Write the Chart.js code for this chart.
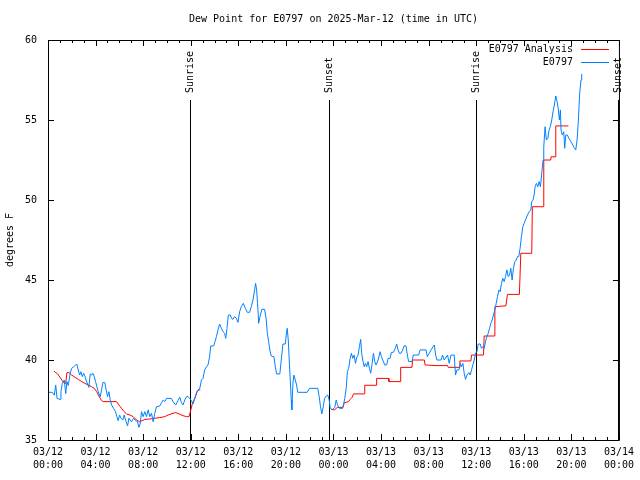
<!DOCTYPE html>
<html>
<head>
<meta charset="utf-8">
<script src="https://cdn.jsdelivr.net/npm/chart.js@4/dist/chart.umd.min.js"></script>
<style>
  body { margin: 0; background: #fff; }
  canvas { display: block; }
</style>
</head>
<body>
<canvas id="chart" width="640" height="480"></canvas>
<script>
// hours since 03/12 00:00 UTC
var obsHours = [0.08,0.36,0.53,0.65,0.76,1.01,1.09,1.20,1.37,1.49,1.59,1.70,1.87,1.99,2.16,2.32,2.43,2.54,2.66,2.77,
  2.88,3.00,3.10,3.21,3.33,3.44,3.55,3.67,3.78,3.89,4.00,4.11,4.22,4.39,4.51,4.62,4.78,4.89,5.01,5.12,
  5.23,5.35,5.51,5.68,5.79,5.90,6.02,6.13,6.29,6.40,6.57,6.69,6.80,6.91,7.02,7.19,7.36,7.53,7.64,7.75,
  7.86,8.00,8.14,8.28,8.42,8.56,8.70,8.84,8.98,9.12,9.40,9.68,9.82,9.96,10.18,10.38,10.51,10.74,10.93,11.08,
  11.22,11.35,11.50,11.64,11.77,11.92,12.06,12.19,12.34,12.48,12.61,12.76,12.90,13.03,13.17,13.32,13.45,13.59,13.68,13.93,
  14.04,14.16,14.29,14.43,14.58,14.71,14.85,14.94,15.05,15.16,15.33,15.44,15.55,15.69,15.84,15.97,16.11,16.25,16.42,16.59,
  16.76,16.95,17.09,17.23,17.37,17.45,17.54,17.62,17.71,17.82,17.98,18.21,18.35,18.44,18.55,18.65,18.77,18.99,19.11,19.22,
  19.49,19.61,19.75,19.95,20.03,20.11,20.20,20.28,20.37,20.45,20.50,20.59,20.67,20.79,20.90,21.00,21.79,21.99,22.68,22.80,
  22.91,23.02,23.14,23.25,23.39,23.52,23.64,23.72,23.86,23.94,24.11,24.23,24.34,24.50,24.78,24.95,25.07,25.17,25.28,25.40,
  25.51,25.62,25.74,25.85,25.96,26.07,26.18,26.29,26.37,26.46,26.58,26.69,26.79,26.91,27.02,27.13,27.25,27.36,27.47,27.58,
  27.75,27.92,28.03,28.14,28.31,28.47,28.59,28.76,28.87,29.04,29.20,29.31,29.43,29.54,29.68,29.82,29.93,30.10,30.21,30.32,
  30.60,30.71,31.16,31.28,31.78,31.89,32.06,32.20,32.37,32.48,32.59,32.70,33.04,33.17,33.31,33.59,33.73,33.88,34.15,34.26,
  34.38,34.55,34.66,34.77,34.88,34.99,35.10,35.22,35.39,35.50,35.61,35.72,35.83,35.94,36.06,36.17,36.34,36.44,36.56,36.67,
  36.78,36.90,37.01,37.12,37.23,37.34,37.45,37.57,37.68,37.79,37.91,38.02,38.12,38.24,38.35,38.46,38.58,38.69,38.80,38.91,
  39.02,39.13,39.25,39.36,39.47,39.58,39.69,39.80,39.92,40.03,40.31,40.45,40.59,40.67,40.78,40.87,40.95,41.06,41.18,41.29,
  41.40,41.51,41.62,41.68,41.79,41.90,42.02,42.13,42.23,42.35,42.46,42.57,42.69,42.80,42.91,42.99,43.08,43.13,43.24,43.36,
  43.44,43.53,43.66,43.80,43.95,44.08,44.22,44.37,44.48,44.59,44.70,44.81,44.87];
var obsValues = [37.98,37.98,37.8,38.44,37.6,37.54,38.02,38.54,38.75,37.9,38.65,38.4,39.17,39.48,39.58,39.69,39.73,39.38,39.06,39.27,
  38.96,39.17,39.0,38.71,38.5,38.29,39.13,39.06,39.17,38.96,38.65,38.33,38.02,37.71,38.17,38.6,38.58,38.13,37.71,38.02,
  37.5,37.19,36.98,36.77,36.46,36.21,36.56,36.36,36.25,36.56,36.14,35.88,36.36,36.25,36.14,36.36,36.21,36.14,35.79,36.0,
  36.77,36.46,36.77,36.46,36.88,36.46,36.67,36.14,36.67,37.08,37.13,37.5,37.4,37.6,37.6,37.6,37.4,37.19,37.46,37.67,
  37.33,37.19,37.5,37.71,37.71,37.6,37.46,37.25,37.6,37.92,38.13,38.23,38.75,38.85,39.38,39.58,39.69,40.21,40.88,40.88,
  41.15,41.46,41.88,42.25,41.98,41.77,41.67,41.35,41.98,42.81,42.81,42.6,42.54,42.71,42.6,42.35,43.02,43.33,43.54,43.23,
  42.98,42.98,43.33,43.75,44.38,44.79,44.38,43.54,42.29,42.71,43.17,43.17,42.5,41.67,41.15,40.63,40.25,40.21,39.58,39.13,
  39.13,40.0,41.0,41.0,41.56,41.98,41.25,40.0,38.75,37.5,36.88,38.54,39.06,38.75,38.44,37.98,37.98,38.23,38.23,37.71,
  37.08,36.63,37.08,37.6,37.75,37.81,37.5,37.04,36.88,36.92,37.04,37.5,37.19,36.98,36.98,37.6,38.23,39.27,39.48,40.1,
  40.42,40.1,40.31,39.79,40.17,40.31,40.83,41.29,40.42,40.0,39.58,39.79,39.58,39.9,39.48,39.17,39.79,40.42,39.9,39.69,
  40.0,40.52,40.21,40.0,39.69,39.69,40.1,40.1,40.48,40.48,40.73,41.0,40.63,40.42,40.42,40.63,40.88,40.88,40.31,39.9,
  39.9,40.31,40.31,40.63,40.63,40.21,40.42,40.63,40.83,40.94,40.31,40.0,40.0,40.31,40.0,40.31,39.79,40.31,40.31,39.06,
  39.38,39.38,39.79,39.58,39.79,39.17,38.79,39.06,39.21,39.06,39.38,39.69,40.0,40.42,40.52,41.0,41.0,40.73,40.83,40.73,
  41.15,41.46,41.67,41.98,42.29,42.5,42.81,43.13,43.54,43.96,44.38,44.27,44.79,45.1,44.9,45.21,45.63,45.21,45.31,45.73,
  45.0,45.73,46.15,46.25,46.46,46.46,46.98,47.71,48.33,48.54,49.06,49.27,49.38,49.9,50.0,50.31,50.83,51.04,50.83,51.15,
  50.83,51.67,52.5,53.33,54.58,53.75,53.85,54.38,54.58,55.0,55.52,55.94,56.5,56.15,55.63,55.0,55.63,54.38,54.06,54.27,
  53.23,54.06,54.06,53.85,53.65,53.5,53.29,53.13,53.75,55.0,56.67,57.5,57.88];

// analysis series, null marks the missing stretch
var anaHours = [0.50,0.65,0.81,1.01,1.20,1.37,1.49,1.59,1.76,1.99,2.27,2.54,2.83,3.10,3.38,3.67,3.89,4.09,4.28,4.51,
  4.64,5.76,5.96,6.18,6.40,6.60,6.88,7.16,7.44,7.72,8.14,8.56,8.98,9.40,9.82,10.10,10.51,10.74,11.02,11.35,
  11.64,11.86,11.97,12.14,12.34,12.53,12.67,12.81,12.90,
  23.81,24.08,24.23,24.36,24.78,24.92,25.28,25.40,25.57,25.68,26.58,26.63,27.58,27.63,28.64,28.66,29.60,29.65,30.60,30.65,
  31.64,31.70,32.62,33.59,33.65,34.57,34.63,35.55,35.61,36.61,36.67,37.51,37.57,38.33,38.49,38.63,39.63,39.75,40.67,40.72,
  41.64,41.68,42.27,42.29,42.63,42.69,43.75];
var anaValues = [39.31,39.21,39.13,38.92,38.71,38.54,38.54,39.21,39.21,39.06,38.92,38.79,38.65,38.54,38.44,38.33,38.23,38.02,37.75,37.46,
  37.4,37.4,37.19,36.98,36.77,36.63,36.56,36.46,36.25,36.14,36.29,36.31,36.36,36.4,36.46,36.56,36.67,36.71,36.63,36.52,
  36.46,36.46,36.77,37.29,37.6,38.02,38.13,38.13,null,
  36.92,36.88,36.98,37.04,37.04,37.33,37.4,37.54,37.67,37.88,37.88,38.42,38.42,38.85,38.85,38.65,38.65,39.54,39.54,40.0,
  40.0,39.69,39.65,39.65,39.54,39.54,39.94,39.94,40.31,40.31,41.5,41.5,43.33,43.38,43.38,44.1,44.1,46.67,46.67,49.58,
  49.58,52.5,52.5,52.7,52.7,54.63,54.63];

var seriesNames = ['E0797 Analysis', 'E0797'];
var seriesColors = ['#ff0000', '#0080ff'];

var eventHours = [11.92, 23.66, 35.98, 47.92];
var eventNames = ['Sunrise', 'Sunset', 'Sunrise', 'Sunset'];

var xTickLabels = [['03/12','00:00'],['03/12','04:00'],['03/12','08:00'],['03/12','12:00'],['03/12','16:00'],['03/12','20:00'],
  ['03/13','00:00'],['03/13','04:00'],['03/13','08:00'],['03/13','12:00'],['03/13','16:00'],['03/13','20:00'],['03/14','00:00']];

function toPoints(hours, values) {
    return hours.map(function(h, i) { return {x: h, y: values[i]}; });
}

Chart.defaults.font.family = '"DejaVu Sans Mono", monospace';
Chart.defaults.font.size = 10;
Chart.defaults.color = '#000';

// border, inward ticks, sunrise/sunset markers and the key
var frame = {
    id: 'frame',
    beforeDatasetsDraw: function(chart) {
        var ctx = chart.ctx, a = chart.chartArea, x = chart.scales.x, y = chart.scales.y;
        ctx.save();
        ctx.strokeStyle = '#000';
        ctx.lineWidth = 1;
        ctx.beginPath();
        ctx.rect(a.left + 0.5, a.top + 0.5, a.right - a.left, a.bottom - a.top);
        for (var h = x.min; h <= x.max; h++) {
            var len = h % 4 === 0 ? 6 : 3;
            var px = Math.round(x.getPixelForValue(h)) + 0.5;
            ctx.moveTo(px, a.bottom); ctx.lineTo(px, a.bottom - len);
            ctx.moveTo(px, a.top); ctx.lineTo(px, a.top + len);
        }
        y.ticks.forEach(function(t) {
            var py = Math.round(y.getPixelForValue(t.value)) + 0.5;
            ctx.moveTo(a.left, py); ctx.lineTo(a.left + 6, py);
            ctx.moveTo(a.right, py); ctx.lineTo(a.right - 6, py);
        });
        eventHours.forEach(function(h) {
            var px = Math.round(x.getPixelForValue(h)) + 0.5;
            ctx.moveTo(px, a.top + 60); ctx.lineTo(px, a.bottom);
        });
        ctx.stroke();

        ctx.fillStyle = '#000';
        ctx.font = '10px "DejaVu Sans Mono", monospace';
        ctx.textAlign = 'left';
        ctx.textBaseline = 'middle';
        eventHours.forEach(function(h, i) {
            var px = Math.round(x.getPixelForValue(h)) + 0.5;
            ctx.save();
            ctx.translate(px, a.top + 53);
            ctx.rotate(-Math.PI / 2);
            ctx.fillText(eventNames[i], 0, 0);
            ctx.restore();
        });
        ctx.restore();
    },
    afterDatasetsDraw: function(chart) {
        var ctx = chart.ctx, a = chart.chartArea;
        ctx.save();
        ctx.font = '10px "DejaVu Sans Mono", monospace';
        ctx.textAlign = 'right';
        ctx.textBaseline = 'middle';
        ctx.lineWidth = 1;
        seriesNames.forEach(function(name, i) {
            var ly = a.top + 9 + i * 13;
            ctx.fillStyle = '#000';
            ctx.fillText(name, a.right - 46, ly);
            ctx.strokeStyle = seriesColors[i];
            ctx.beginPath();
            ctx.moveTo(a.right - 38, ly + 0.5);
            ctx.lineTo(a.right - 10, ly + 0.5);
            ctx.stroke();
        });
        ctx.restore();
    }
};

new Chart(document.getElementById('chart').getContext('2d'), {
    type: 'line',
    data: {
        datasets: [{
            label: seriesNames[0],
            data: toPoints(anaHours, anaValues),
            borderColor: seriesColors[0],
            borderWidth: 1,
            pointRadius: 0,
            spanGaps: false,
            order: 2
        }, {
            label: seriesNames[1],
            data: toPoints(obsHours, obsValues),
            borderColor: seriesColors[1],
            borderWidth: 1,
            pointRadius: 0,
            order: 1
        }]
    },
    options: {
        responsive: false,
        animation: false,
        devicePixelRatio: 1,
        layout: { padding: { right: 20 } },
        plugins: {
            legend: { display: false },
            tooltip: { enabled: false },
            title: {
                display: true,
                fullSize: false,
                text: 'Dew Point for E0797 on 2025-Mar-12 (time in UTC)',
                font: { size: 10, weight: 'normal' },
                padding: { top: 13, bottom: 15 }
            }
        },
        scales: {
            x: {
                type: 'linear',
                min: 0,
                max: 48,
                grid: { display: false, drawTicks: false },
                border: { display: false },
                ticks: {
                    stepSize: 4,
                    autoSkip: false,
                    maxRotation: 0,
                    padding: 6,
                    font: { lineHeight: 1.3 },
                    callback: function(value, index) { return xTickLabels[index]; }
                },
                afterFit: function(scale) { scale.height = 40; }
            },
            y: {
                min: 35,
                max: 60,
                grid: { display: false, drawTicks: false },
                border: { display: false },
                ticks: { stepSize: 5, padding: 11 },
                title: { display: true, text: 'degrees F', padding: { top: 4, bottom: 0 } },
                afterFit: function(scale) { scale.width = 48; }
            }
        }
    },
    plugins: [frame]
});
</script>
</body>
</html>
